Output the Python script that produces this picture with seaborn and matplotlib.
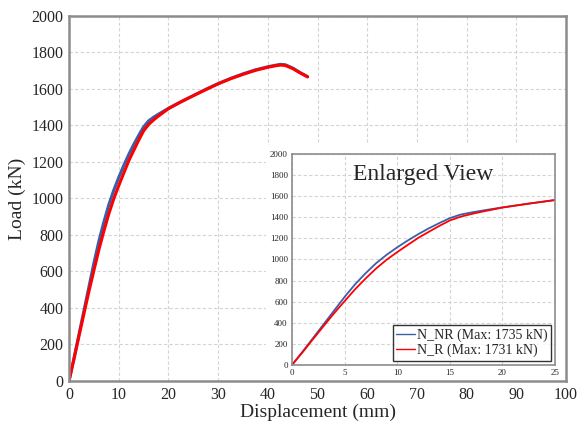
import matplotlib
matplotlib.use("Agg")
import matplotlib.pyplot as plt
import seaborn as sns
import pandas as pd
from matplotlib.patches import Rectangle

# Load-displacement response of the two models
displacement = [0, 1, 2, 3, 4, 5, 6, 7, 8, 9, 10, 11, 12, 13, 14, 15, 16, 17, 18,
                20, 22.5, 25, 27.5, 30, 32.5, 35, 37.5, 40, 41.5, 42.5, 43.5, 45, 46.5, 48]
load_nr = [0, 125, 255, 385, 515, 645, 765, 870, 965, 1045, 1115, 1180, 1240, 1295,
           1345, 1392, 1425, 1445, 1462, 1494, 1530, 1564, 1598, 1630, 1658, 1683,
           1705, 1722, 1730, 1735, 1733, 1715, 1690, 1668]
load_r = [0, 120, 245, 368, 490, 605, 718, 820, 915, 998, 1070, 1138, 1205, 1262,
          1318, 1370, 1405, 1430, 1452, 1492, 1529, 1563, 1596, 1628, 1656, 1680,
          1702, 1719, 1727, 1731, 1729, 1712, 1688, 1666]
series_names = ["N_NR (Max: 1735 kN)", "N_R (Max: 1731 kN)"]
series_colors = ["#3b5ea8", "#ff0000"]

main_xticks = list(range(0, 101, 10))
main_yticks = list(range(0, 2001, 200))
inset_xticks = [0, 5, 10, 15, 20, 25]
inset_yticks = list(range(0, 2001, 200))

df = pd.DataFrame({
    "Displacement": displacement * 2,
    "Load": load_nr + load_r,
    "Model": [series_names[0]] * len(displacement) + [series_names[1]] * len(displacement),
})

sns.set_style("whitegrid")
plt.rcParams["font.family"] = ["Liberation Serif", "DejaVu Serif"]

fig = plt.figure(figsize=(5.77, 4.30), dpi=100)
ax = fig.add_axes([0.1196, 0.1140, 0.8614, 0.8488])

spine_col = "#8c8c8c"
grid_kw = dict(color="#d4d4d4", linestyle=(0, (3, 2)), linewidth=0.8)


def style_axes(a, lw):
    a.grid(True, **grid_kw)
    a.set_axisbelow(True)
    for s in a.spines.values():
        s.set_color(spine_col)
        s.set_linewidth(lw)
        s.set_visible(True)
    a.tick_params(length=0)


sns.lineplot(data=df, x="Displacement", y="Load", hue="Model",
             palette=series_colors, linewidth=2.2, ax=ax, legend=False,
             sort=False, estimator=None)
ax.set_xlim(0, 100)
ax.set_ylim(0, 2000)
ax.set_xticks(main_xticks)
ax.set_yticks(main_yticks)
ax.tick_params(labelsize=11.5, pad=4)
ax.set_xlabel("Displacement (mm)", fontsize=14, labelpad=1)
ax.set_ylabel("Load (kN)", fontsize=14, labelpad=4)
style_axes(ax, 1.8)

# White panel behind the enlarged view
ax.add_patch(Rectangle((0.396, 0.0), 0.604, 0.647, transform=ax.transAxes,
                       facecolor="white", edgecolor="none", zorder=1.5))

# Enlarged view of the initial branch
axin = fig.add_axes([0.506, 0.1512, 0.456, 0.4907])
sns.lineplot(data=df, x="Displacement", y="Load", hue="Model",
             palette=series_colors, linewidth=1.3, ax=axin, sort=False,
             estimator=None)
axin.set_xlim(0, 25)
axin.set_ylim(0, 2000)
axin.set_xticks(inset_xticks)
axin.set_yticks(inset_yticks)
axin.tick_params(labelsize=6.5, pad=3)
axin.set_xlabel("")
axin.set_ylabel("")
style_axes(axin, 1.2)
axin.text(0.5, 0.905, "Enlarged View", transform=axin.transAxes,
          ha="center", va="center", fontsize=17)
leg = axin.legend(loc="lower right", fontsize=10, frameon=True, fancybox=False,
                  handlelength=1.4, handletextpad=0.1, borderpad=0.25,
                  labelspacing=0.15, borderaxespad=0.3)
leg.get_frame().set_edgecolor("black")
leg.get_frame().set_linewidth(1.0)
for line in leg.get_lines():
    line.set_linewidth(1.0)

fig.savefig("out.png", dpi=100)
